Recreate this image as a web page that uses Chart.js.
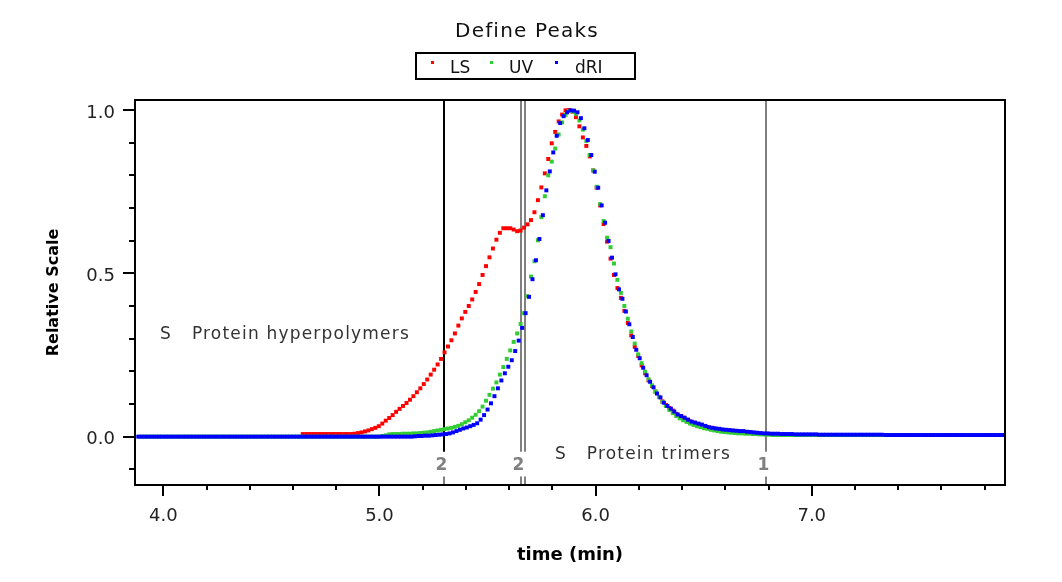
<!DOCTYPE html>
<html>
<head>
<meta charset="utf-8">
<title>Define Peaks</title>
<script src="https://cdn.jsdelivr.net/npm/chart.js@4.4.0/dist/chart.umd.min.js"></script>
<style>
  html, body { margin: 0; padding: 0; background: #fff; }
  #chart { display: block; }
</style>
</head>
<body>
<canvas id="chart" width="1062" height="582"></canvas>
<script>
// --- DATA (relative scale) ---
const sampleInterval = 0.016;   // min between two detector readings
const lsStart = 4.645;          // first LS reading (min)
const uvStart = 3.893;          // first UV reading (min)
const driStart = 3.884;         // first dRI reading (min)

const lsValues = [
  0.008, 0.008, 0.008, 0.008, 0.008, 0.008, 0.008, 0.008, 0.008, 0.008, 0.008, 0.008, 0.008, 0.008, 0.008,
  0.009, 0.011, 0.013, 0.016, 0.019, 0.023, 0.027, 0.032, 0.040, 0.049,
  0.057, 0.066, 0.076, 0.085, 0.094, 0.103, 0.113, 0.124, 0.136, 0.148,
  0.161, 0.175, 0.190, 0.205, 0.221, 0.238, 0.258, 0.276, 0.295, 0.316,
  0.340, 0.362, 0.382, 0.400, 0.420, 0.443, 0.467, 0.495, 0.522, 0.549,
  0.576, 0.603, 0.624, 0.638, 0.638, 0.638, 0.634, 0.629, 0.631, 0.640,
  0.650, 0.663, 0.687, 0.724, 0.763, 0.806, 0.850, 0.898, 0.933, 0.965,
  0.986, 0.999, 1.000, 0.995, 0.978, 0.950, 0.916, 0.890, 0.858, 0.815,
  0.762, 0.708, 0.651, 0.597, 0.545, 0.495, 0.455, 0.425, 0.385, 0.348,
  0.310, 0.275, 0.247, 0.218, 0.194, 0.172, 0.155, 0.138, 0.122, 0.108,
  0.097, 0.088, 0.080, 0.070, 0.063, 0.058, 0.052, 0.047, 0.043, 0.039,
  0.035, 0.032, 0.029, 0.027, 0.025, 0.023, 0.021, 0.020, 0.019, 0.018,
  0.017, 0.016, 0.015, 0.014, 0.013, 0.012
];

const uvValues = [
  0, 0, 0, 0, 0, 0, 0, 0, 0, 0, 0, 0, 0, 0, 0, 0, 0, 0, 0, 0,
  0, 0, 0, 0, 0, 0, 0, 0, 0, 0, 0, 0, 0, 0, 0, 0, 0, 0, 0, 0,
  0, 0, 0, 0, 0, 0, 0, 0, 0, 0, 0, 0, 0, 0, 0, 0, 0, 0, 0, 0,
  0, 0, 0, 0, 0, 0, 0, 0, 0, 0,
  0.002, 0.004, 0.007, 0.008, 0.008, 0.008, 0.009, 0.009, 0.009, 0.010,
  0.010, 0.011, 0.012, 0.013, 0.015, 0.017, 0.019, 0.021, 0.023, 0.025,
  0.027, 0.030, 0.033, 0.038, 0.044, 0.050, 0.058, 0.067, 0.078, 0.092,
  0.110, 0.128, 0.147, 0.166, 0.190, 0.213, 0.238, 0.264, 0.290, 0.316,
  0.345, 0.378, 0.430, 0.490, 0.537, 0.601, 0.672, 0.736, 0.800, 0.842,
  0.882, 0.925, 0.962, 0.985, 0.997, 0.996, 0.988, 0.968, 0.940, 0.905,
  0.862, 0.815, 0.765, 0.712, 0.660, 0.609, 0.580, 0.530, 0.480, 0.440,
  0.400, 0.361, 0.322, 0.285, 0.252, 0.225, 0.199, 0.176, 0.157, 0.138,
  0.121, 0.106, 0.094, 0.082, 0.072, 0.063, 0.056, 0.050, 0.045, 0.040,
  0.036, 0.032, 0.029, 0.026, 0.024, 0.021, 0.019, 0.017, 0.015, 0.014,
  0.013, 0.012, 0.011, 0.010, 0.010, 0.009, 0.009, 0.008, 0.008, 0.007,
  0.007, 0.006, 0.006,
  0.005, 0.005, 0.005, 0.005, 0.005, 0.005, 0.005, 0.005, 0.005, 0.005,
  0.005, 0.005, 0.005, 0.005, 0.005, 0.005, 0.005, 0.005, 0.005, 0.005,
  0.005, 0.005, 0.005, 0.005, 0.005, 0.005, 0.005, 0.005, 0.005, 0.005,
  0.005, 0.005, 0.005, 0.005, 0.005, 0.005, 0.005, 0.005, 0.005, 0.005,
  0.005, 0.005, 0.005, 0.005, 0.005, 0.005, 0.005, 0.005, 0.005, 0.005,
  0.005, 0.005, 0.005, 0.005, 0.005, 0.005, 0.005, 0.005, 0.005, 0.005,
  0.005, 0.005, 0.005, 0.005, 0.005, 0.005, 0.005
];

const driValues = [
  0, 0, 0, 0, 0, 0, 0, 0, 0, 0, 0, 0, 0, 0, 0, 0, 0, 0, 0, 0,
  0, 0, 0, 0, 0, 0, 0, 0, 0, 0, 0, 0, 0, 0, 0, 0, 0, 0, 0, 0,
  0, 0, 0, 0, 0, 0, 0, 0, 0, 0, 0, 0, 0, 0, 0, 0, 0, 0, 0, 0,
  0, 0, 0, 0, 0, 0, 0, 0, 0, 0, 0, 0, 0, 0, 0, 0, 0, 0, 0, 0,
  0.001, 0.002, 0.002, 0.003, 0.003, 0.004, 0.005, 0.006, 0.007, 0.008,
  0.010, 0.013, 0.017, 0.021, 0.025, 0.028, 0.032, 0.036, 0.041, 0.052,
  0.066, 0.083, 0.102, 0.124, 0.148, 0.172, 0.194, 0.214, 0.234, 0.262,
  0.294, 0.333, 0.378, 0.428, 0.482, 0.540, 0.605, 0.678, 0.754, 0.812,
  0.870, 0.921, 0.960, 0.981, 0.993, 0.999, 0.998, 0.993, 0.975, 0.944,
  0.908, 0.862, 0.811, 0.762, 0.708, 0.655, 0.599, 0.548, 0.497, 0.451,
  0.422, 0.383, 0.344, 0.305, 0.266, 0.240, 0.211, 0.188, 0.168, 0.151,
  0.132, 0.120, 0.104, 0.094, 0.086, 0.077, 0.068, 0.063, 0.058, 0.052,
  0.046, 0.043, 0.040, 0.037, 0.033, 0.029, 0.027, 0.025, 0.024, 0.022,
  0.021, 0.020, 0.019, 0.018, 0.017, 0.017, 0.015, 0.014, 0.013, 0.012,
  0.011, 0.010, 0.010, 0.009, 0.009, 0.009, 0.008, 0.008, 0.008, 0.008,
  0.007, 0.007, 0.007, 0.007, 0.007, 0.007, 0.007, 0.006, 0.006, 0.006,
  0.006, 0.006, 0.006, 0.006, 0.006, 0.006, 0.006, 0.006, 0.006, 0.006,
  0.006, 0.006, 0.006, 0.006, 0.006, 0.006, 0.005, 0.005, 0.005, 0.005,
  0.005, 0.005, 0.005, 0.005, 0.005, 0.005, 0.005, 0.005, 0.005, 0.005,
  0.005, 0.005, 0.005, 0.005, 0.005, 0.005, 0.005, 0.005, 0.005, 0.005,
  0.005, 0.005, 0.005, 0.005, 0.005, 0.005, 0.005, 0.005, 0.005, 0.005,
  0.005, 0.005, 0.005, 0.005, 0.005, 0.005, 0.005, 0.005, 0.005, 0.005,
  0.005, 0.005, 0.005, 0.005, 0.005, 0.005, 0.005, 0.005, 0.005, 0.005,
  0.005, 0.005, 0.005, 0.005, 0.005, 0.005, 0.005, 0.005, 0.005, 0.005,
  0.005, 0.005, 0.005, 0.005, 0.005, 0.005, 0.005, 0.005, 0.005, 0.005,
  0.005
];

const seriesNames = ['LS', 'UV', 'dRI'];
const seriesColors = ['#ff0000', '#33cc33', '#0000ff'];

const xMajorTicks = [4.0, 5.0, 6.0, 7.0];
const xMinorTicks = [4.2, 4.4, 4.6, 4.8, 5.2, 5.4, 5.6, 5.8, 6.2, 6.4, 6.6, 6.8, 7.2, 7.4, 7.6, 7.8];
const yMajorTicks = [0.0, 0.5, 1.0];
const yMinorTicks = [-0.1, 0.1, 0.2, 0.3, 0.4, 0.6, 0.7, 0.8, 0.9];

// peak boundaries (min) and their peak numbers
const peakBoundaries = [5.30, 5.655, 5.675, 6.79];
const boundaryLabels = ['2', '2', '', '1'];
const boundaryColors = ['#000000', '#808080', '#808080', '#808080'];

// peak names and where they sit (time, relative scale)
const peakNames = ['S   Protein hyperpolymers', 'S   Protein trimers'];
const peakNameTimes = [3.985, 5.812];
const peakNameValues = [0.314, -0.056];


// --- HELPERS ---
function toPoints(start, values) {
    return values.map((v, i) => ({ x: start + i * sampleInterval, y: v }));
}

const FONT = '"DejaVu Sans", Verdana, sans-serif';
Chart.defaults.font.family = FONT;


// --- PLUGIN: boundary lines, peak names, frame, ticks, title, legend ---
const chartDecorations = {
    id: 'chartDecorations',
    beforeDatasetsDraw(chart) {
        const { ctx, chartArea: area, scales: { x, y } } = chart;
        ctx.save();

        // Peak boundary lines with their numbers
        peakBoundaries.forEach((t, i) => {
            const px = Math.round(x.getPixelForValue(t));
            ctx.lineWidth = 2;
            ctx.strokeStyle = boundaryColors[i];
            ctx.beginPath();
            ctx.moveTo(px, area.top);
            ctx.lineTo(px, y.getPixelForValue(-0.046));
            ctx.stroke();

            ctx.strokeStyle = '#808080';
            ctx.beginPath();
            ctx.moveTo(px, y.getPixelForValue(-0.122));
            ctx.lineTo(px, area.bottom);
            ctx.stroke();

            if (boundaryLabels[i]) {
                ctx.fillStyle = '#808080';
                ctx.font = 'bold 17px ' + FONT;
                ctx.textAlign = 'center';
                ctx.textBaseline = 'middle';
                ctx.fillText(boundaryLabels[i], px - 2.5, y.getPixelForValue(-0.09));
            }
        });

        // Peak names
        ctx.fillStyle = '#333333';
        ctx.font = '17px ' + FONT;
        ctx.letterSpacing = '1.2px';
        ctx.textAlign = 'left';
        ctx.textBaseline = 'middle';
        peakNames.forEach((name, i) => {
            ctx.fillText(name, x.getPixelForValue(peakNameTimes[i]), y.getPixelForValue(peakNameValues[i]));
        });
        ctx.restore();
    },
    afterDraw(chart) {
        const { ctx, chartArea: area, scales: { x, y } } = chart;
        ctx.save();
        ctx.strokeStyle = '#000';
        ctx.lineWidth = 2;

        // Plot frame
        ctx.strokeRect(area.left, area.top, area.right - area.left, area.bottom - area.top);

        // Tick marks, long at labelled values
        const tickX = (v, len) => {
            const px = Math.round(x.getPixelForValue(v));
            ctx.beginPath();
            ctx.moveTo(px, area.bottom);
            ctx.lineTo(px, area.bottom + len);
            ctx.stroke();
        };
        const tickY = (v, len) => {
            const py = Math.round(y.getPixelForValue(v));
            ctx.beginPath();
            ctx.moveTo(area.left, py);
            ctx.lineTo(area.left - len, py);
            ctx.stroke();
        };
        xMajorTicks.forEach(v => tickX(v, 11));
        xMinorTicks.forEach(v => tickX(v, 5));
        yMajorTicks.forEach(v => tickY(v, 12));
        yMinorTicks.forEach(v => tickY(v, 6));

        // Title
        ctx.fillStyle = '#111';
        ctx.font = '20px ' + FONT;
        ctx.letterSpacing = '1.2px';
        ctx.textAlign = 'center';
        ctx.textBaseline = 'alphabetic';
        ctx.fillText('Define Peaks', 527, 37);

        // Legend box
        ctx.letterSpacing = '0px';
        ctx.lineWidth = 2;
        ctx.strokeRect(416, 53, 219, 26);
        const markerX = [431, 490, 555];
        const textX = [450, 509, 575];
        ctx.font = '17px ' + FONT;
        ctx.textAlign = 'left';
        seriesNames.forEach((name, i) => {
            ctx.fillStyle = seriesColors[i];
            ctx.fillRect(markerX[i], 61, 3, 3);
            ctx.fillStyle = '#111';
            ctx.fillText(name, textX[i], 73);
        });
        ctx.restore();
    }
};


// --- CHART ---
const datasets = [
    { label: seriesNames[0], data: toPoints(lsStart, lsValues), backgroundColor: seriesColors[0], order: 2 },
    { label: seriesNames[1], data: toPoints(uvStart, uvValues), backgroundColor: seriesColors[1], order: 1 },
    { label: seriesNames[2], data: toPoints(driStart, driValues), backgroundColor: seriesColors[2], order: 0 }
];

new Chart(document.getElementById('chart'), {
    type: 'scatter',
    data: { datasets },
    options: {
        responsive: false,
        animation: false,
        devicePixelRatio: 1,
        events: [],
        layout: { padding: { top: 100, right: 57, bottom: 0, left: 0 } },
        elements: {
            point: { pointStyle: 'rect', radius: 2.8, hoverRadius: 2.8, borderWidth: 0 }
        },
        plugins: {
            legend: { display: false },
            title: { display: false },
            tooltip: { enabled: false }
        },
        scales: {
            x: {
                type: 'linear',
                min: 3.869,
                max: 7.894,
                afterBuildTicks: scale => { scale.ticks = xMajorTicks.map(v => ({ value: v })); },
                afterFit: scale => { scale.height = 97; },
                grid: { display: false, drawTicks: false },
                border: { display: false },
                ticks: {
                    padding: 21,
                    color: '#222',
                    font: { size: 18 },
                    maxRotation: 0,
                    autoSkip: false,
                    callback: v => v.toFixed(1)
                },
                title: {
                    display: true,
                    text: 'time (min)',
                    color: '#000',
                    font: { size: 18, weight: 'bold' },
                    padding: { top: 0, bottom: 16 }
                }
            },
            y: {
                type: 'linear',
                min: -0.148,
                max: 1.0306,
                afterBuildTicks: scale => { scale.ticks = yMajorTicks.map(v => ({ value: v })); },
                afterFit: scale => { scale.width = 135; },
                grid: { display: false, drawTicks: false },
                border: { display: false },
                ticks: {
                    padding: 20,
                    color: '#222',
                    font: { size: 18 },
                    labelOffset: 3,
                    callback: v => v.toFixed(1)
                },
                title: {
                    display: true,
                    text: 'Relative Scale',
                    color: '#000',
                    font: { size: 16, weight: 'bold' },
                    padding: { top: 44, bottom: 0 }
                }
            }
        }
    },
    plugins: [chartDecorations]
});
</script>
</body>
</html>
